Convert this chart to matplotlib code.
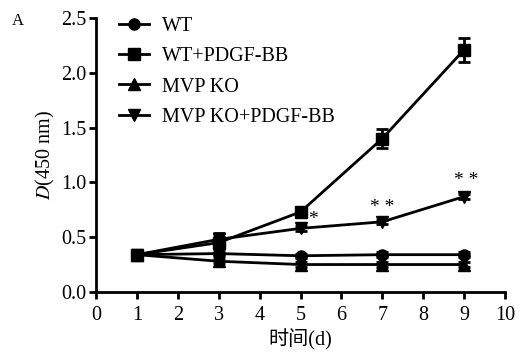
import matplotlib
matplotlib.use("Agg")
import matplotlib.pyplot as plt
from matplotlib.lines import Line2D

plt.rcParams['font.family'] = ['Liberation Serif', 'Noto Sans CJK SC']
plt.rcParams['mathtext.fontset'] = 'stix'

days = [1, 3, 5, 7, 9]
wt = [0.34, 0.35, 0.33, 0.34, 0.34]
wt_pdgf = [0.34, 0.45, 0.73, 1.40, 2.21]
wt_pdgf_err = [0.02, 0.05, 0.03, 0.09, 0.11]
ko = [0.34, 0.28, 0.25, 0.25, 0.25]
ko_pdgf = [0.34, 0.48, 0.58, 0.64, 0.87]
ko_pdgf_err = [0.02, 0.06, 0.02, 0.02, 0.02]
labels = ['WT', 'WT+PDGF-BB', 'MVP KO', 'MVP KO+PDGF-BB']
markers = ['o', 's', '^', 'v']

fig = plt.figure(figsize=(5.19, 3.53), dpi=100)
ax = fig.add_axes([0.185, 0.173, 0.788, 0.776])

kw = dict(color='black', lw=2, ms=8, capsize=4, capthick=2, elinewidth=2)
ax.errorbar(days, wt, yerr=0.02, marker=markers[0], **kw)
ax.errorbar(days, wt_pdgf, yerr=wt_pdgf_err, marker=markers[1], **kw)
ax.errorbar(days, ko, yerr=0.02, marker=markers[2], **kw)
ax.errorbar(days, ko_pdgf, yerr=ko_pdgf_err, marker=markers[3], **kw)

ax.text(5.3, 0.62, '*', fontsize=14, ha='center')
ax.text(7, 0.73, '* *', fontsize=14, ha='center')
ax.text(9.05, 0.98, '* *', fontsize=14, ha='center')

ax.set_xlim(0, 10)
ax.set_ylim(0, 2.5)
ax.set_xticks(range(0, 11))
ax.set_yticks([0, 0.5, 1.0, 1.5, 2.0, 2.5])
ax.set_yticklabels(['0.0', '0.5', '1.0', '1.5', '2.0', '2.5'])
ax.tick_params(labelsize=14.5, width=2, length=5)
ax.tick_params(axis='x', pad=5)
ax.tick_params(axis='y', pad=2)
for s in ['top', 'right']:
    ax.spines[s].set_visible(False)
for s in ['left', 'bottom']:
    ax.spines[s].set_linewidth(2)

ax.set_xlabel('时间(d)', fontsize=14.5, labelpad=3)
ax.set_ylabel('$D$(450 nm)', fontsize=14.5, labelpad=3)

handles = [Line2D([], [], color='black', lw=2, marker=m, ms=8) for m in markers]
ax.legend(handles, labels, loc='upper left', frameon=False, fontsize=14.5,
          handlelength=1.5, handletextpad=0.65, borderaxespad=0,
          bbox_to_anchor=(111 / 519, 1 - 9 / 353), bbox_transform=fig.transFigure,
          labelspacing=0.55)

fig.text(0.022, 0.93, 'A', fontsize=12)

fig.savefig('out.png', dpi=100)
